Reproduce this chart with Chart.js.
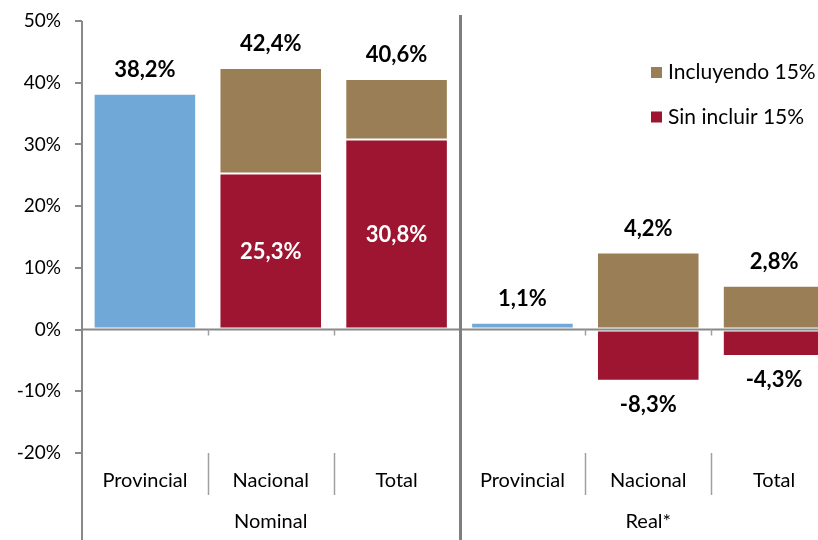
<!DOCTYPE html>
<html>
<head>
<meta charset="utf-8">
<script src="https://cdn.jsdelivr.net/npm/chart.js@4.4.1/dist/chart.umd.min.js"></script>
<style>
  html, body { margin: 0; padding: 0; background: #fff; overflow: hidden; }
  canvas { display: block; }
</style>
</head>
<body>
<canvas id="chart" width="840" height="540"></canvas>
<script>
// datos
const categorias = ["Provincial", "Nacional", "Total", "Provincial", "Nacional", "Total"];
const grupos = ["Nominal", "Real*"];
const provincial = [38.2, null, null, 1.1, null, null];
const sinIncluir = [null, 25.3, 30.8, null, -8.3, -4.3];
const incluyendo = [null, 42.4, 40.6, null, 4.2, 2.8];
const yMin = -20, yMax = 50, yPaso = 10;

// el tramo "incluyendo" se apila sobre "sin incluir"
const tramoIncluyendo = incluyendo.map((v, i) => v === null ? null : +(v - sinIncluir[i]).toFixed(1));

const AZUL = "#70a8d8";
const OCRE = "#9a7f56";
const ROJO = "#9d1530";
const GRIS = "#888888";
const FUENTE = "Lato, 'Open Sans', sans-serif";

const fmt = v => v.toFixed(1).replace(".", ",") + "%";

const extras = {
    id: "extras",
    afterDatasetsDraw(chart) {
        const ctx = chart.ctx;
        const area = chart.chartArea;
        const x = chart.scales.x;
        const y = chart.scales.y;
        const ancho = (area.right - area.left) / categorias.length;
        const y0 = y.getPixelForValue(0);

        ctx.save();
        // linea del cero y eje vertical
        ctx.strokeStyle = GRIS;
        ctx.lineWidth = 2;
        ctx.beginPath();
        ctx.moveTo(area.left, y0);
        ctx.lineTo(area.right, y0);
        ctx.moveTo(area.left, area.top);
        ctx.lineTo(area.left, chart.height);
        ctx.stroke();

        // separadores de categorias
        for (let i = 1; i < categorias.length; i++) {
            const xs = Math.round(area.left + i * ancho) + 0.5;
            if (i % 3 === 0) {
                ctx.strokeStyle = "#7f7f7f";
                ctx.lineWidth = 3;
                ctx.beginPath();
                ctx.moveTo(xs, 15);
                ctx.lineTo(xs, chart.height);
                ctx.stroke();
            } else {
                ctx.strokeStyle = "#a0a0a0";
                ctx.lineWidth = 1.5;
                ctx.beginPath();
                ctx.moveTo(xs, y0);
                ctx.lineTo(xs, y0 + 6);
                ctx.moveTo(xs, area.bottom);
                ctx.lineTo(xs, area.bottom + 42);
                ctx.stroke();
            }
        }

        // etiquetas de grupo
        ctx.fillStyle = "#000";
        ctx.font = "20px " + FUENTE;
        ctx.textAlign = "center";
        ctx.textBaseline = "middle";
        grupos.forEach((g, k) => {
            const cx = (x.getPixelForValue(k * 3) + x.getPixelForValue(k * 3 + 2)) / 2;
            ctx.fillText(g, cx, 522);
        });

        // etiquetas de datos
        ctx.font = "bold 22px " + FUENTE;
        const off = 24;
        chart.getDatasetMeta(0).data.forEach((bar, i) => {
            if (provincial[i] === null) return;
            ctx.fillStyle = "#000";
            ctx.fillText(fmt(provincial[i]), bar.x, bar.y - off);
        });
        chart.getDatasetMeta(1).data.forEach((bar, i) => {
            const v = sinIncluir[i];
            if (v === null) return;
            if (v >= 0) {
                ctx.fillStyle = "#fff";
                ctx.fillText(fmt(v), bar.x, (bar.y + bar.base) / 2 + 1);
            } else {
                ctx.fillStyle = "#000";
                ctx.fillText(fmt(v), bar.x, bar.y + off);
            }
        });
        chart.getDatasetMeta(2).data.forEach((bar, i) => {
            if (incluyendo[i] === null) return;
            ctx.fillStyle = "#000";
            ctx.fillText(fmt(incluyendo[i]), bar.x, bar.y - off);
        });

        // leyenda
        ctx.font = "21px " + FUENTE;
        ctx.textAlign = "left";
        [2, 1].forEach((d, k) => {
            const ds = chart.data.datasets[d];
            const cy = 72.5 + k * 44.5;
            ctx.fillStyle = ds.backgroundColor;
            ctx.fillRect(651, cy - 5.5, 11, 11);
            ctx.fillStyle = "#000";
            ctx.fillText(ds.label, 668, cy);
        });
        ctx.restore();
    }
};

new Chart(document.getElementById("chart"), {
    type: "bar",
    data: {
        labels: categorias,
        datasets: [
            { label: "Provincial", data: provincial, backgroundColor: AZUL },
            { label: "Sin incluir 15%", data: sinIncluir, backgroundColor: ROJO },
            { label: "Incluyendo 15%", data: tramoIncluyendo, backgroundColor: OCRE },
        ],
    },
    options: {
        responsive: false,
        animation: false,
        devicePixelRatio: 1,
        layout: { padding: { top: 21, right: 3, left: 0, bottom: 0 } },
        datasets: {
            bar: {
                categoryPercentage: 1,
                barPercentage: 0.815,
                borderColor: "#ffffff",
                borderWidth: 1,
                borderSkipped: false,
            },
        },
        plugins: {
            legend: { display: false },
            tooltip: { enabled: false },
        },
        scales: {
            x: {
                stacked: true,
                grid: { display: false },
                border: { display: false },
                ticks: {
                    color: "#000",
                    font: { family: FUENTE, size: 20 },
                    padding: 8,
                    maxRotation: 0,
                },
                afterFit(scale) {
                    scale.height = 87;
                    scale.paddingLeft = 0;
                    scale.paddingRight = 0;
                },
            },
            y: {
                stacked: true,
                min: yMin,
                max: yMax,
                grid: {
                    drawOnChartArea: false,
                    tickLength: 7,
                    tickColor: GRIS,
                    lineWidth: 2,
                },
                border: { display: false },
                ticks: {
                    stepSize: yPaso,
                    color: "#000",
                    font: { family: FUENTE, size: 19 },
                    padding: 14,
                    callback: v => v + "%",
                },
                afterFit(scale) {
                    scale.width = 82;
                    scale.paddingTop = 0;
                    scale.paddingBottom = 0;
                },
            },
        },
    },
    plugins: [extras],
});
</script>
</body>
</html>
